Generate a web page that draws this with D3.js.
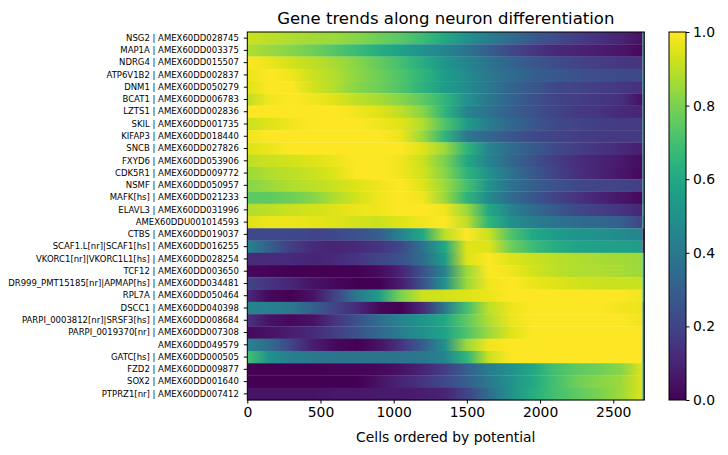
<!DOCTYPE html>
<html>
  <head>
    <title>Gene trends along neuron differentiation</title>
    <style>
      body { margin: 0; background: #fff; }
      text { font-family: 'DejaVu Sans', sans-serif; fill: #000; }
    </style>
  </head>
  <body>
    <svg id="svg" width="728" height="455"></svg>
    <script src="https://cdn.jsdelivr.net/npm/d3@7"></script>
    <script>
      const genes = [
        'NSG2 | AMEX60DD028745',
        'MAP1A | AMEX60DD003375',
        'NDRG4 | AMEX60DD015507',
        'ATP6V1B2 | AMEX60DD002837',
        'DNM1 | AMEX60DD050279',
        'BCAT1 | AMEX60DD006783',
        'LZTS1 | AMEX60DD002836',
        'SKIL | AMEX60DD001735',
        'KIFAP3 | AMEX60DD018440',
        'SNCB | AMEX60DD027826',
        'FXYD6 | AMEX60DD053906',
        'CDK5R1 | AMEX60DD009772',
        'NSMF | AMEX60DD050957',
        'MAFK[hs] | AMEX60DD021233',
        'ELAVL3 | AMEX60DD031996',
        'AMEX60DDU001014593',
        'CTBS | AMEX60DD019037',
        'SCAF1.L[nr]|SCAF1[hs] | AMEX60DD016255',
        'VKORC1[nr]|VKORC1L1[hs] | AMEX60DD028254',
        'TCF12 | AMEX60DD003650',
        'DR999_PMT15185[nr]|APMAP[hs] | AMEX60DD034481',
        'RPL7A | AMEX60DD050464',
        'DSCC1 | AMEX60DD040398',
        'PARPI_0003812[nr]|SRSF3[hs] | AMEX60DD008684',
        'PARPI_0019370[nr] | AMEX60DD007308',
        'AMEX60DD049579',
        'GATC[hs] | AMEX60DD000505',
        'FZD2 | AMEX60DD009877',
        'SOX2 | AMEX60DD001640',
        'PTPRZ1[nr] | AMEX60DD007412',
      ];

      // cell positions where the trend was read
      const cellPos = [0, 150, 300, 450, 600, 750, 900, 1050, 1200, 1350, 1500,
        1650, 1800, 1950, 2100, 2250, 2400, 2550, 2700];
      const nCells = 2712;

      const trends = [
        [0.92, 0.9, 0.88, 0.86, 0.85, 0.82, 0.78, 0.74, 0.68, 0.6, 0.5, 0.42, 0.35, 0.28, 0.23, 0.18, 0.14, 0.1, 0.04],
        [0.88, 0.85, 0.82, 0.78, 0.73, 0.68, 0.62, 0.57, 0.5, 0.45, 0.38, 0.3, 0.22, 0.16, 0.12, 0.1, 0.08, 0.06, 0.02],
        [1.0, 0.97, 0.93, 0.9, 0.87, 0.82, 0.76, 0.7, 0.62, 0.52, 0.45, 0.38, 0.32, 0.27, 0.23, 0.2, 0.18, 0.16, 0.15],
        [0.97, 1.0, 0.98, 0.92, 0.88, 0.83, 0.78, 0.72, 0.65, 0.55, 0.48, 0.4, 0.35, 0.3, 0.27, 0.25, 0.23, 0.22, 0.22],
        [0.95, 1.0, 1.0, 0.93, 0.88, 0.82, 0.78, 0.72, 0.64, 0.55, 0.48, 0.4, 0.32, 0.27, 0.22, 0.2, 0.18, 0.16, 0.14],
        [0.9, 0.98, 1.0, 0.98, 0.95, 0.9, 0.87, 0.82, 0.75, 0.65, 0.5, 0.4, 0.32, 0.25, 0.2, 0.18, 0.16, 0.14, 0.04],
        [1.0, 1.0, 1.0, 1.0, 1.0, 0.98, 0.95, 0.9, 0.82, 0.65, 0.45, 0.38, 0.3, 0.25, 0.2, 0.17, 0.15, 0.12, 0.1],
        [0.92, 0.95, 0.98, 1.0, 1.0, 1.0, 0.98, 0.95, 0.88, 0.72, 0.55, 0.42, 0.33, 0.27, 0.22, 0.2, 0.18, 0.17, 0.17],
        [0.98, 1.0, 1.0, 1.0, 1.0, 1.0, 1.0, 0.97, 0.85, 0.65, 0.4, 0.33, 0.27, 0.22, 0.2, 0.18, 0.17, 0.17, 0.17],
        [0.95, 0.97, 1.0, 1.0, 1.0, 1.0, 1.0, 1.0, 0.95, 0.85, 0.65, 0.45, 0.35, 0.28, 0.22, 0.18, 0.15, 0.12, 0.08],
        [0.9, 0.92, 0.93, 0.95, 0.97, 1.0, 1.0, 0.98, 0.92, 0.8, 0.6, 0.45, 0.33, 0.25, 0.18, 0.13, 0.1, 0.07, 0.03],
        [0.85, 0.88, 0.9, 0.92, 0.95, 1.0, 1.0, 0.98, 0.93, 0.82, 0.65, 0.5, 0.38, 0.28, 0.2, 0.14, 0.1, 0.06, 0.02],
        [0.82, 0.85, 0.88, 0.9, 0.92, 0.95, 0.98, 1.0, 0.95, 0.85, 0.7, 0.5, 0.38, 0.3, 0.25, 0.22, 0.2, 0.2, 0.18],
        [0.75, 0.75, 0.78, 0.82, 0.88, 0.93, 0.98, 1.0, 0.98, 0.85, 0.65, 0.48, 0.35, 0.27, 0.2, 0.15, 0.1, 0.06, 0.02],
        [0.88, 0.9, 0.92, 0.93, 0.95, 0.97, 0.98, 1.0, 1.0, 0.98, 0.85, 0.6, 0.45, 0.35, 0.28, 0.22, 0.18, 0.15, 0.1],
        [0.95, 0.97, 0.97, 0.96, 0.95, 0.93, 0.92, 0.95, 0.98, 1.0, 0.9, 0.65, 0.5, 0.42, 0.38, 0.35, 0.33, 0.3, 0.2],
        [0.22, 0.22, 0.22, 0.2, 0.22, 0.25, 0.3, 0.45, 0.6, 0.9, 1.0, 0.92, 0.72, 0.6, 0.55, 0.52, 0.5, 0.48, 0.45],
        [0.45, 0.3, 0.18, 0.12, 0.1, 0.12, 0.15, 0.22, 0.38, 0.6, 0.95, 0.95, 0.78, 0.68, 0.62, 0.58, 0.57, 0.56, 0.55],
        [0.12, 0.12, 0.12, 0.1, 0.12, 0.15, 0.2, 0.25, 0.35, 0.55, 0.95, 1.0, 0.95, 0.92, 0.9, 0.88, 0.87, 0.86, 0.85],
        [0.02, 0.01, 0.0, 0.0, 0.0, 0.0, 0.03, 0.1, 0.25, 0.45, 0.85, 1.0, 0.98, 0.93, 0.9, 0.88, 0.88, 0.87, 0.85],
        [0.2, 0.15, 0.1, 0.05, 0.02, 0.0, 0.0, 0.08, 0.25, 0.5, 0.85, 0.98, 1.0, 0.97, 0.95, 0.93, 0.92, 0.92, 0.92],
        [0.12, 0.02, 0.0, 0.05, 0.2, 0.4, 0.55, 0.8, 0.92, 0.93, 0.95, 0.97, 1.0, 1.0, 1.0, 1.0, 1.0, 1.0, 0.98],
        [0.45, 0.43, 0.4, 0.3, 0.2, 0.12, 0.02, 0.0, 0.12, 0.4, 0.7, 0.9, 0.97, 1.0, 1.0, 1.0, 1.0, 0.98, 0.97],
        [0.15, 0.05, 0.02, 0.05, 0.15, 0.25, 0.35, 0.45, 0.52, 0.6, 0.75, 0.88, 0.97, 1.0, 1.0, 1.0, 1.0, 1.0, 0.98],
        [0.02, 0.05, 0.08, 0.12, 0.18, 0.25, 0.33, 0.42, 0.5, 0.58, 0.72, 0.85, 0.95, 1.0, 1.0, 1.0, 1.0, 1.0, 1.0],
        [0.45, 0.35, 0.2, 0.08, 0.02, 0.0, 0.05, 0.15, 0.3, 0.5, 0.85, 0.98, 1.0, 1.0, 1.0, 1.0, 1.0, 1.0, 1.0],
        [0.7, 0.5, 0.42, 0.4, 0.38, 0.38, 0.38, 0.38, 0.4, 0.45, 0.65, 0.92, 1.0, 1.0, 1.0, 1.0, 1.0, 1.0, 1.0],
        [0.0, 0.0, 0.0, 0.0, 0.01, 0.01, 0.02, 0.05, 0.1, 0.18, 0.3, 0.42, 0.5, 0.6, 0.7, 0.75, 0.78, 0.82, 0.95],
        [0.0, 0.0, 0.0, 0.0, 0.0, 0.0, 0.05, 0.1, 0.15, 0.22, 0.3, 0.4, 0.5, 0.6, 0.7, 0.78, 0.82, 0.85, 0.95],
        [0.05, 0.05, 0.05, 0.05, 0.06, 0.06, 0.07, 0.07, 0.08, 0.1, 0.2, 0.35, 0.5, 0.62, 0.7, 0.75, 0.8, 0.85, 0.95],
      ];

      // the thin last column at the right edge
      const edgeVals = [0.45, 0.45, 0.45, 0.45, 0.45, 0.45, 0.45, 0.45, 0.45, 0.45,
        0.45, 0.45, 0.45, 0.5, 0.6, 0.45, 0.05, 0.1, 0.65, 0.65,
        0.65, 0.65, 0.45, 0.45, 0.45, 0.45, 0.45, 0.5, 0.5, 0.5];

      const xTicks = [0, 500, 1000, 1500, 2000, 2500];
      const cbarTicks = [0, 0.2, 0.4, 0.6, 0.8, 1.0];

      const plotLeft = 247.3, plotRight = 644.3, plotTop = 32, plotBottom = 400;
      const cbLeft = 669, cbRight = 686;

      const svg = d3.select('#svg');
      const defs = svg.append('defs');

      const xScale = d3.scaleLinear().domain([0, nCells]).range([plotLeft, plotRight]);
      const yScale = d3.scaleBand().domain(genes).range([plotTop, plotBottom]);
      const color = d3.scaleSequential(d3.interpolateViridis).domain([0, 1]);

      const firstPos = cellPos[0];
      const lastPos = cellPos[cellPos.length - 1];

      // one gradient per gene row
      genes.forEach((g, i) => {
        const grad = defs.append('linearGradient')
          .attr('id', 'row' + i)
          .attr('gradientUnits', 'userSpaceOnUse')
          .attr('x1', xScale(firstPos))
          .attr('x2', xScale(lastPos))
          .attr('y1', 0).attr('y2', 0);
        grad.selectAll('stop')
          .data(trends[i])
          .join('stop')
          .attr('offset', (d, j) => (cellPos[j] - firstPos) / (lastPos - firstPos))
          .attr('stop-color', (d) => color(d));
      });

      const heat = svg.append('g');
      heat.selectAll('rect.row')
        .data(genes)
        .join('rect')
        .attr('class', 'row')
        .attr('x', xScale(firstPos))
        .attr('width', xScale(lastPos) - xScale(firstPos))
        .attr('y', (d) => yScale(d))
        .attr('height', yScale.bandwidth() + 0.3)
        .attr('fill', (d, i) => 'url(#row' + i + ')');

      heat.selectAll('rect.edge')
        .data(genes)
        .join('rect')
        .attr('class', 'edge')
        .attr('x', xScale(lastPos))
        .attr('width', xScale(nCells) - xScale(lastPos))
        .attr('y', (d) => yScale(d))
        .attr('height', yScale.bandwidth() + 0.3)
        .attr('fill', (d, i) => color(edgeVals[i]));

      // axes
      const xAxis = svg.append('g')
        .attr('transform', `translate(0, ${plotBottom})`)
        .call(d3.axisBottom(xScale).tickValues(xTicks).tickFormat(d3.format('d')).tickSize(3.5).tickPadding(3.5));
      xAxis.selectAll('text').style('font-size', '13.9px');

      const yAxis = svg.append('g')
        .attr('transform', `translate(${plotLeft}, 0)`)
        .call(d3.axisLeft(yScale).tickSize(3.5).tickPadding(5));
      yAxis.selectAll('text').style('font-size', '8.5px');

      svg.selectAll('.domain').remove();
      svg.append('rect')
        .attr('x', plotLeft).attr('y', plotTop)
        .attr('width', plotRight - plotLeft).attr('height', plotBottom - plotTop)
        .attr('fill', 'none').attr('stroke', '#000').attr('stroke-width', 1);

      svg.append('text')
        .attr('x', (plotLeft + plotRight) / 2)
        .attr('y', 24)
        .attr('text-anchor', 'middle')
        .style('font-size', '16.5px')
        .text('Gene trends along neuron differentiation');

      svg.append('text')
        .attr('x', (plotLeft + plotRight) / 2)
        .attr('y', 442)
        .attr('text-anchor', 'middle')
        .style('font-size', '13.9px')
        .text('Cells ordered by potential');

      // colorbar
      const cbScale = d3.scaleLinear().domain([0, 1]).range([plotBottom, plotTop]);
      const cbGrad = defs.append('linearGradient')
        .attr('id', 'cbar')
        .attr('x1', 0).attr('x2', 0).attr('y1', 1).attr('y2', 0);
      cbGrad.selectAll('stop')
        .data(d3.range(0, 1.001, 0.05))
        .join('stop')
        .attr('offset', (d) => d)
        .attr('stop-color', (d) => color(d));
      svg.append('rect')
        .attr('x', cbLeft).attr('y', plotTop)
        .attr('width', cbRight - cbLeft).attr('height', plotBottom - plotTop)
        .attr('fill', 'url(#cbar)')
        .attr('stroke', '#000').attr('stroke-width', 1);
      const cbAxis = svg.append('g')
        .attr('transform', `translate(${cbRight}, 0)`)
        .call(d3.axisRight(cbScale).tickValues(cbarTicks).tickFormat(d3.format('.1f')).tickSize(3.5).tickPadding(3.5));
      cbAxis.select('.domain').remove();
      cbAxis.selectAll('text').style('font-size', '13.9px');
    </script>
  </body>
</html>
